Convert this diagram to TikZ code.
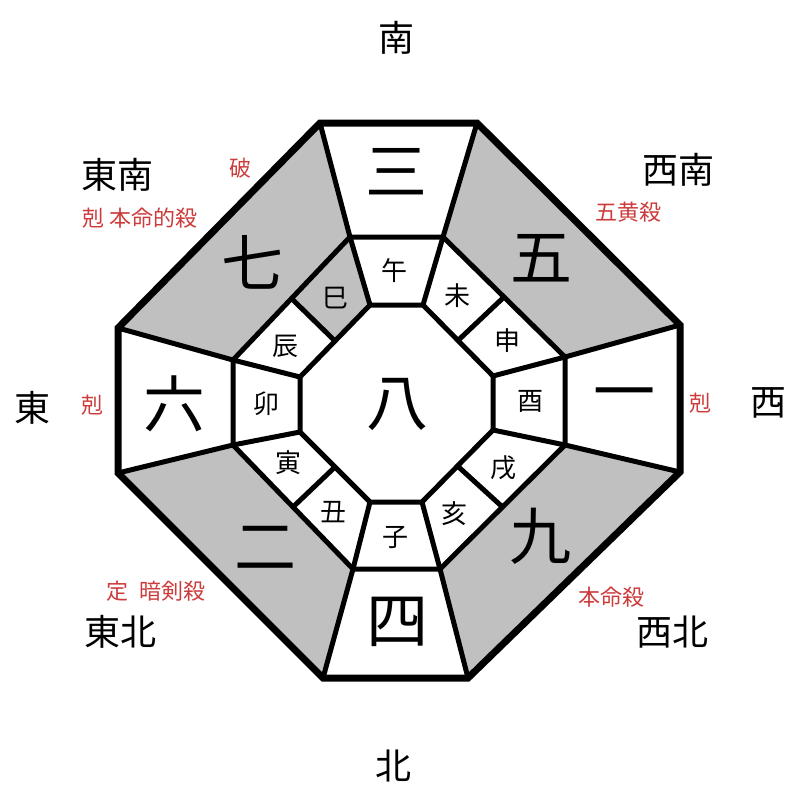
\documentclass[tikz,border=0pt]{standalone}
\usepackage{fontspec}
\newfontfamily\cjk{Noto Sans CJK JP}
\usetikzlibrary{calc}
\definecolor{redlbl}{RGB}{204,60,60}
\definecolor{cellgray}{RGB}{192,192,192}
\tikzset{
  bignum/.style={font=\cjk\fontsize{62}{66}\selectfont, inner sep=0pt},
  branch/.style={font=\cjk\fontsize{26}{28}\selectfont, inner sep=0pt},
  dirlbl/.style={font=\cjk\fontsize{36}{40}\selectfont, inner sep=0pt},
  redtxt/.style={font=\cjk\fontsize{22}{26}\selectfont, text=redlbl, inner sep=0pt},
  wall/.style={line width=5pt, line join=miter},
  rim/.style={line width=7pt, line join=miter},
  shade/.style={fill=cellgray}
}
\begin{document}
\begin{tikzpicture}[x=1pt, y=-1pt]
\useasboundingbox (0,0) rectangle (800,800);
% outer octagon
\coordinate (O1) at (320,123);
\coordinate (O2) at (477,123);
\coordinate (O3) at (680,325);
\coordinate (O4) at (680,472);
\coordinate (O5) at (468,678);
\coordinate (O6) at (323,678);
\coordinate (O7) at (118,473);
\coordinate (O8) at (118,328);
% middle octagon
\coordinate (M1) at (350,237);
\coordinate (M2) at (443,237);
\coordinate (M3) at (565,357);
\coordinate (M4) at (565,445);
\coordinate (M5) at (440,569);
\coordinate (M6) at (353,569);
\coordinate (M7) at (233,445);
\coordinate (M8) at (233,360);
% inner octagon
\coordinate (I1) at (370,305);
\coordinate (I2) at (423,305);
\coordinate (I3) at (493,376);
\coordinate (I4) at (493,430);
\coordinate (I5) at (422,502);
\coordinate (I6) at (370,502);
\coordinate (I7) at (300,432);
\coordinate (I8) at (300,377);
% dividers of the diagonal cells
\coordinate (Ma) at ($(M2)!0.5!(M3)$);
\coordinate (Ia) at ($(I2)!0.5!(I3)$);
\coordinate (Mb) at ($(M4)!0.5!(M5)$);
\coordinate (Ib) at ($(I4)!0.5!(I5)$);
\coordinate (Mc) at ($(M6)!0.5!(M7)$);
\coordinate (Ic) at ($(I6)!0.5!(I7)$);
\coordinate (Md) at ($(M8)!0.5!(M1)$);
\coordinate (Id) at ($(I8)!0.5!(I1)$);
% gray fills
\fill[shade] (O2) -- (O3) -- (M3) -- (M2) -- cycle;
\fill[shade] (O8) -- (O1) -- (M1) -- (M8) -- cycle;
\fill[shade] (O6) -- (O7) -- (M7) -- (M6) -- cycle;
\fill[shade] (O4) -- (O5) -- (M5) -- (M4) -- cycle;
\fill[shade] (M1) -- (I1) -- (Id) -- (Md) -- cycle;
% lines
\draw[wall] (M1) -- (M2) -- (M3) -- (M4) -- (M5) -- (M6) -- (M7) -- (M8) -- cycle;
\draw[wall] (I1) -- (I2) -- (I3) -- (I4) -- (I5) -- (I6) -- (I7) -- (I8) -- cycle;
\foreach \k in {1,...,8} {\draw[wall] (O\k) -- (M\k) -- (I\k);}
\draw[wall] (Ma) -- (Ia);
\draw[wall] (Mb) -- (Ib);
\draw[wall] (Mc) -- (Ic);
\draw[wall] (Md) -- (Id);
\draw[rim] (O1) -- (O2) -- (O3) -- (O4) -- (O5) -- (O6) -- (O7) -- (O8) -- cycle;
% big numerals
\node[bignum] (n3) at (396,172) {三};
\node[bignum] (n5) at (541,258) {五};
\node[bignum] (n1) at (624,401) {一};
\node[bignum] (n9) at (540,536) {九};
\node[bignum] (n4) at (397,622) {四};
\node[bignum] (n2) at (265,548) {二};
\node[bignum] (n6) at (174,404) {六};
\node[bignum] (n7) at (252,262) {七};
\node[bignum] (n8) at (397,404) {八};
% branches
\node[branch] (wu) at (394,271) {午};
\node[branch] (wei) at (457,296) {未};
\node[branch] (shen) at (507,341) {申};
\node[branch] (you) at (530,401) {酉};
\node[branch] (xu) at (503,468) {戌};
\node[branch] (hai) at (454,514) {亥};
\node[branch] (zi) at (395,537) {子};
\node[branch] (chou) at (333,512) {丑};
\node[branch] (yin) at (288,463) {寅};
\node[branch] (mao) at (266,404) {卯};
\node[branch] (chen) at (285,346) {辰};
\node[branch] (si) at (335,298) {巳};
% directions
\node[dirlbl] (S) at (396,38) {南};
\node[dirlbl] (SE) at (117,175) {東南};
\node[dirlbl] (SW) at (678,170) {西南};
\node[dirlbl] (E) at (32,408) {東};
\node[dirlbl] (W) at (768,403) {西};
\node[dirlbl] (NE) at (120,632) {東北};
\node[dirlbl] (NW) at (672,632) {西北};
\node[dirlbl] (N) at (393,766) {北};
% red notes
\node[redtxt] (r1) at (240,168) {破};
\node[redtxt] (r2) at (140,218) {剋 本命的殺};
\node[redtxt] (r3) at (628,212) {五黄殺};
\node[redtxt] (r4) at (92,405) {剋};
\node[redtxt] (r5) at (700,403) {剋};
\node[redtxt] (r6) at (156,591) {定\hspace{0.5em}暗剣殺};
\node[redtxt] (r7) at (611,597) {本命殺};
\end{tikzpicture}
\end{document}
